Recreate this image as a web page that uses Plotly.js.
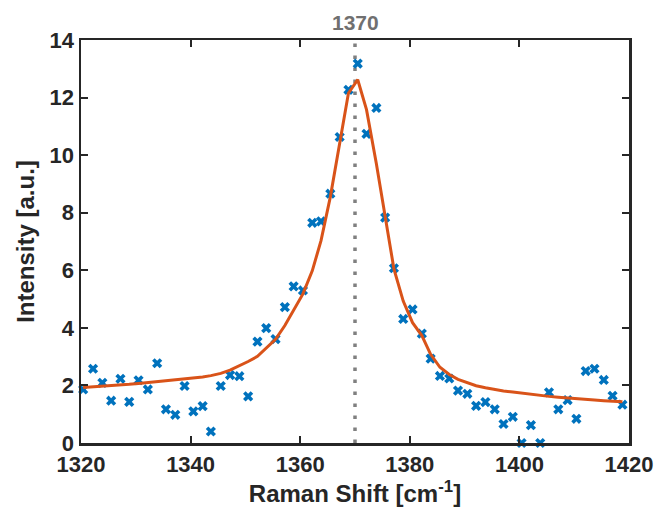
<!DOCTYPE html>
<html>
<head>
<meta charset="utf-8">
<script src="https://cdn.plot.ly/plotly-3.0.1.min.js"></script>
<style>html,body{margin:0;padding:0;background:#fff;}#chart{width:654px;height:516px;}</style>
</head>
<body>
<div id="chart"></div>
<script>
// Measured Raman data (x in cm^-1, intensity in a.u.)
const shiftData = [1320.4, 1322.2, 1323.9, 1325.5, 1327.2, 1328.8, 1330.5, 1332.2, 1333.9, 1335.5,
  1337.2, 1338.9, 1340.5, 1342.2, 1343.7, 1345.5, 1347.2, 1348.9, 1350.5, 1352.2,
  1353.8, 1355.5, 1357.2, 1358.8, 1360.5, 1362.2, 1363.8, 1365.5, 1367.2, 1368.8,
  1370.5, 1372.1, 1373.9, 1375.5, 1377.1, 1378.8, 1380.5, 1382.2, 1383.8, 1385.5,
  1387.2, 1388.8, 1390.5, 1392.1, 1393.8, 1395.5, 1397.1, 1398.8, 1400.4, 1402.1,
  1403.8, 1405.4, 1407.1, 1408.8, 1410.4, 1412.1, 1413.7, 1415.4, 1417.0, 1418.8];
const intensityData = [1.86, 2.58, 2.09, 1.47, 2.23, 1.43, 2.18, 1.86, 2.77, 1.17,
  0.98, 1.98, 1.10, 1.28, 0.40, 1.98, 2.36, 2.32, 1.62, 3.52,
  3.99, 3.61, 4.72, 5.44, 5.30, 7.65, 7.70, 8.66, 10.63, 12.27,
  13.18, 10.74, 11.64, 7.83, 6.07, 4.31, 4.64, 3.80, 2.93, 2.33,
  2.24, 1.82, 1.71, 1.29, 1.42, 1.17, 0.66, 0.91, 0.00, 0.62,
  0.00, 1.76, 1.17, 1.49, 0.84, 2.50, 2.58, 2.19, 1.64, 1.33];
// Fitted curve values, read at the same shifts
const fitIntensity = [1.93, 1.95, 1.97, 1.99, 2.01, 2.04, 2.07, 2.10, 2.13, 2.16,
  2.19, 2.22, 2.25, 2.29, 2.34, 2.42, 2.53, 2.67, 2.83, 3.01,
  3.28, 3.60, 4.08, 4.60, 5.18, 5.98, 7.03, 8.55, 10.42, 12.15,
  12.62, 11.58, 9.70, 7.85, 6.05, 4.93, 4.18, 3.73, 3.08, 2.63,
  2.38, 2.21, 2.09, 1.99, 1.92, 1.86, 1.81, 1.77, 1.73, 1.69,
  1.65, 1.62, 1.59, 1.56, 1.53, 1.51, 1.49, 1.47, 1.45, 1.43];
const peakShift = 1370;
const peakLineY = [0, 14];
const xTicks = [1320, 1340, 1360, 1380, 1400, 1420];
const yTicks = [0, 2, 4, 6, 8, 10, 12, 14];

const FONT = 'Liberation Sans, Arial, Helvetica, sans-serif';
const axisColor = '#262626';
const tickFont = {family: FONT, size: 22, color: axisColor, weight: 'bold'};

const traces = [
  {
    x: [peakShift, peakShift], y: peakLineY, mode: 'lines',
    line: {color: '#808080', width: 3.5, dash: '3.5px,8.5px'},
    hoverinfo: 'skip', showlegend: false
  },
  {
    x: shiftData, y: intensityData, mode: 'markers',
    marker: {symbol: 'x', size: 9, color: '#0072BD', line: {width: 0}},
    showlegend: false, cliponaxis: false
  },
  {
    x: shiftData, y: fitIntensity, mode: 'lines',
    line: {color: '#D95319', width: 3},
    showlegend: false
  }
];

const layout = {
  width: 654, height: 516,
  margin: {l: 81, r: 25, t: 40, b: 73},
  paper_bgcolor: '#ffffff', plot_bgcolor: '#ffffff',
  showlegend: false,
  xaxis: {
    range: [1320, 1420], tickvals: xTicks, ticktext: xTicks.map(String),
    showline: true, linecolor: axisColor, linewidth: 2.5, mirror: 'ticks',
    ticks: 'inside', ticklen: 7, tickwidth: 2, tickcolor: axisColor,
    showgrid: false, zeroline: false, tickfont: tickFont,
    title: {text: 'Raman Shift [cm<sup>-1</sup>]', font: {family: FONT, size: 24, color: axisColor, weight: 'bold'}, standoff: 9}
  },
  yaxis: {
    range: [0, 14], tickvals: yTicks, ticktext: yTicks.map(String),
    showline: true, linecolor: axisColor, linewidth: 2.5, mirror: 'ticks',
    ticks: 'inside', ticklen: 7, tickwidth: 2, tickcolor: axisColor,
    showgrid: false, zeroline: false, tickfont: tickFont,
    title: {text: 'Intensity [a.u.]', font: {family: FONT, size: 24, color: axisColor, weight: 'bold'}, standoff: 8}
  },
  annotations: [{
    x: peakShift, y: 14, xref: 'x', yref: 'y', text: String(peakShift),
    showarrow: false, yanchor: 'bottom', xanchor: 'center', yshift: 4,
    font: {family: FONT, size: 21, color: '#707070', weight: 'bold'}
  }]
};

Plotly.newPlot('chart', traces, layout, {displayModeBar: false, staticPlot: true});
</script>
</body>
</html>
